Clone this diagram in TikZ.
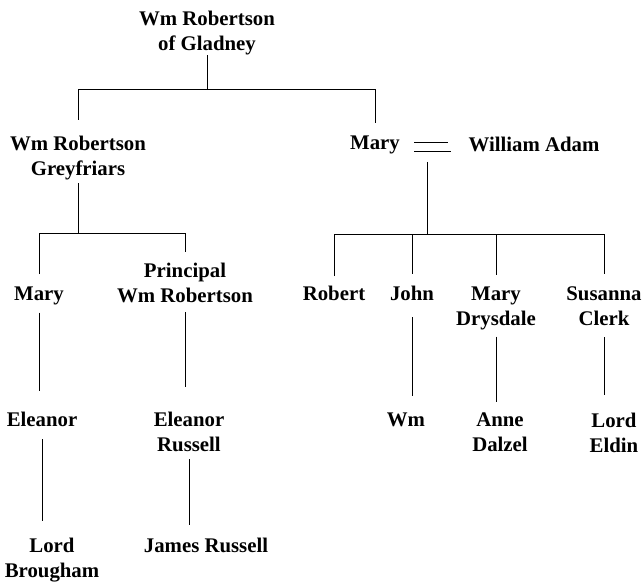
\documentclass[tikz,border=0pt]{standalone}
\usepackage{fontspec}
\setmainfont{Liberation Serif}
\begin{document}
\begin{tikzpicture}[x=1pt, y=-1pt, font=\fontsize{20.8}{25}\selectfont\bfseries,
        person/.style={anchor=north, inner sep=0pt, align=center},
        link/.style={line width=0.8pt}]
        \useasboundingbox (0,0) rectangle (643,583);
        % ---- generation 1 ----
        \node[person] (gladney) at (207, 11) {Wm Robertson\\of Gladney};
        % ---- generation 2 ----
        \node[person] (greyfriars) at (78, 136) {Wm Robertson\\Greyfriars};
        \node[person] (maryR) at (375, 136) {Mary};
        \node[person] (adam) at (534, 137) {William Adam};
        % ---- generation 3 ----
        \node[person] (maryB) at (39, 287) {Mary};
        \node[person] (pwr) at (185, 263) {Principal\\Wm Robertson};
        \node[person] (robert) at (334, 286) {Robert};
        \node[person] (john) at (412, 286) {John};
        \node[person] (mdrys) at (496, 287) {Mary\\Drysdale};
        \node[person] (susanna) at (604, 287) {Susanna\\Clerk};
        % ---- generation 4 ----
        \node[person] (eleanor) at (42, 412) {Eleanor};
        \node[person] (eleanorR) at (189, 412) {Eleanor\\Russell};
        \node[person] (wm) at (406, 413) {Wm};
        \node[person] (anne) at (500, 413) {Anne\\Dalzel};
        \node[person] (eldin) at (614, 413) {Lord\\Eldin};
        % ---- generation 5 ----
        \node[person] (brougham) at (52, 538) {Lord\\Brougham};
        \node[person] (jrussell) at (206, 538) {James Russell};
        % ---- bars ----
        \coordinate (bar1) at (0, 89);
        \coordinate (bar2) at (0, 233);
        \coordinate (bar3) at (0, 234);
        \coordinate (wed) at (427, 152);
        % ---- Gladney -> children ----
        \draw[link] (gladney.south) -- (gladney.south |- bar1);
        \draw[link, shorten <=16pt, shorten >=13pt] (greyfriars.north) -- (greyfriars.north |- bar1)
          -- (maryR.north |- bar1) -- (maryR.north);
        % ---- Mary = William Adam ----
        \draw[link, shorten <=14pt, shorten >=20pt] ([yshift=3pt]maryR.east) -- ([yshift=3pt]maryR.east -| adam.west);
        \draw[link, shorten <=14pt, shorten >=17pt] ([yshift=-6pt]maryR.east) -- ([yshift=-6pt]maryR.east -| adam.west);
        \draw[link, shorten <=10pt] (wed) -- (wed |- bar3);
        \draw[link, shorten <=10pt, shorten >=13pt] (robert.north) -- (robert.north |- bar3)
          -- (susanna.north |- bar3) -- (susanna.north);
        \foreach \k in {john, mdrys}
          \draw[link, shorten >=12pt] (\k.north |- bar3) -- (\k.north);
        % ---- Greyfriars -> children ----
        \draw[link, shorten <=3pt] (greyfriars.south) -- (greyfriars.south |- bar2);
        \draw[link, shorten <=13pt, shorten >=11pt] (maryB.north) -- (maryB.north |- bar2)
          -- (pwr.north |- bar2) -- (pwr.north);
        % ---- descent lines ----
        \draw[link, shorten <=7pt, shorten >=21pt] (maryB.south) -- (maryB.south |- eleanor.north);
        \draw[link, shorten <=9pt, shorten >=25pt] (pwr.south) -- (pwr.south |- eleanorR.north);
        \draw[link, shorten <=16pt, shorten >=17pt] (john.south) -- (john.south |- wm.north);
        \draw[link, shorten <=6pt, shorten >=11pt] (mdrys.south) -- (mdrys.south |- anne.north);
        \draw[link, shorten <=11pt, shorten >=18pt] (susanna.south) -- (susanna.south |- eldin.north);
        \draw[link, shorten <=12pt, shorten >=17pt] (eleanor.south) -- (eleanor.south |- brougham.north);
        \draw[link, shorten <=7pt, shorten >=13pt] (eleanorR.south) -- (eleanorR.south |- jrussell.north);
    \end{tikzpicture}
\end{document}
